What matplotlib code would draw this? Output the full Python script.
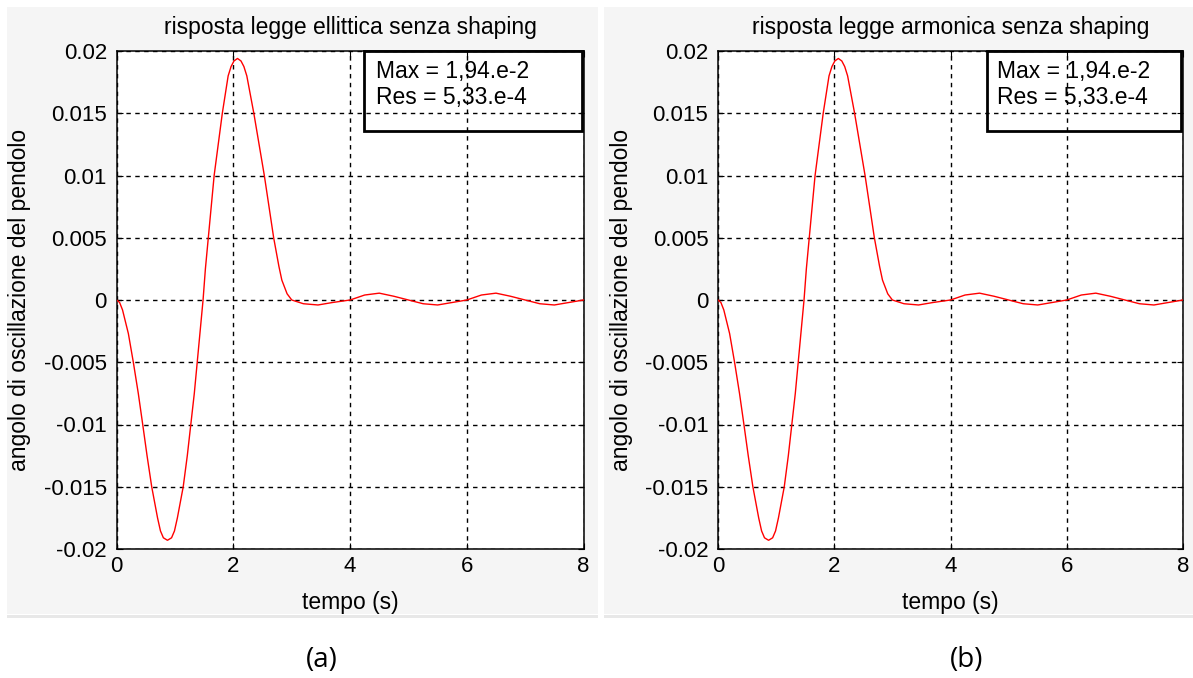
import matplotlib
matplotlib.use("Agg")
import matplotlib.pyplot as plt
from matplotlib.patches import Rectangle

plt.rcParams['font.family'] = ['Liberation Sans', 'DejaVu Sans']

# risposta del pendolo (tempo in s, angolo in rad)
tempo = [0.00, 0.05, 0.10, 0.20, 0.285, 0.37, 0.446, 0.52, 0.60, 0.70,
         0.75, 0.80, 0.87, 0.94, 0.99, 1.04, 1.14, 1.21, 1.27, 1.33,
         1.38, 1.43, 1.48, 1.52, 1.57, 1.62, 1.67, 1.74, 1.81, 1.91,
         1.96, 2.01, 2.07, 2.13, 2.18, 2.23, 2.35, 2.44, 2.53, 2.61,
         2.69, 2.78, 2.83, 2.92, 3.00, 3.20, 3.45, 3.70, 4.00, 4.25,
         4.50, 4.75, 5.00, 5.25, 5.50, 5.75, 6.00, 6.25, 6.50, 6.75,
         7.00, 7.25, 7.50, 7.75, 8.00]
angolo = [0.0, -0.0002, -0.0008, -0.0027, -0.005, -0.0075, -0.010, -0.0125, -0.015, -0.0175,
          -0.01855, -0.0191, -0.0193, -0.0191, -0.01855, -0.0175, -0.015, -0.0125, -0.010, -0.0075,
          -0.005, -0.0025, 0.0, 0.0025, 0.005, 0.0075, 0.010, 0.0125, 0.015, 0.018,
          0.01875, 0.0192, 0.0194, 0.0192, 0.01875, 0.018, 0.015, 0.0125, 0.010, 0.0075,
          0.005, 0.0027, 0.0016, 0.0005, 0.0, -0.0003, -0.0004, -0.0002, 0.0, 0.0004,
          0.00055, 0.0003, 0.0, -0.0003, -0.0004, -0.0002, 0.0, 0.0004, 0.00055, 0.0003,
          0.0, -0.0003, -0.0004, -0.0002, 0.0]

titoli = ['risposta legge ellittica senza shaping',
          'risposta legge armonica senza shaping']
didascalie = ['(a)', '(b)']
note = ['Max = 1,94.e-2\nRes = 5,33.e-4', 'Max = 1,94.e-2\nRes = 5,33.e-4']
xticks = [0, 2, 4, 6, 8]
yticks = [-0.02, -0.015, -0.01, -0.005, 0, 0.005, 0.01, 0.015, 0.02]
ytick_labels = ['-0.02', '-0.015', '-0.01', '-0.005', '0', '0.005', '0.01', '0.015', '0.02']

W, H = 1193, 678
fig = plt.figure(figsize=(W / 100, H / 100), dpi=100)
fig.patch.set_facecolor('white')

# pixel boxes: figure panel, axes, note box (x0, x1) and text x
panels = [(7, 598), (604, 1193)]
axes_x = [(116.7, 583.5), (718, 1183)]
note_box = [(364, 582), (987, 1181)]
note_x = [376, 997]
caption_x = [322, 967]
ax_top, ax_bot = 51, 549

for i in range(2):
    px0, px1 = panels[i]
    # gray MATLAB figure background
    fig.patches.append(Rectangle((px0 / W, 1 - 614 / H), (px1 - px0) / W, 607 / H,
                                 transform=fig.transFigure, facecolor='#f5f5f5',
                                 edgecolor='none', zorder=-10))
    fig.patches.append(Rectangle((px0 / W, 1 - 618 / H), (px1 - px0) / W, 3 / H,
                                 transform=fig.transFigure, facecolor='#e8e8e8',
                                 edgecolor='none', zorder=-10))

    ax0, ax1 = axes_x[i]
    ax = fig.add_axes([ax0 / W, 1 - ax_bot / H, (ax1 - ax0) / W, (ax_bot - ax_top) / H])
    ax.set_facecolor('white')
    ax.plot(tempo, angolo, color='red', linewidth=1.0, zorder=3)

    ax.set_xlim(0, 8)
    ax.set_ylim(-0.02, 0.02)
    ax.set_xticks(xticks)
    ax.set_yticks(yticks)
    ax.set_yticklabels(ytick_labels)
    ax.grid(True, color='black', linestyle=(0, (3.2, 3.2)), linewidth=1.0)
    ax.tick_params(direction='in', length=4, width=0.8, top=True, right=True,
                   labelsize=16, colors='black')
    ax.tick_params(axis='x', pad=5)
    ax.tick_params(axis='y', pad=7)
    for s in ax.spines.values():
        s.set_linewidth(1.1)

    ax.set_title(titoli[i], fontsize=16.5, pad=12)
    ax.set_xlabel('tempo (s)', fontsize=16.5, labelpad=10)
    ax.set_ylabel('angolo di oscillazione del pendolo', fontsize=16.5, labelpad=9)

    # note box with max value and residual
    bx0, bx1 = note_box[i]
    ax.add_patch(Rectangle(((bx0 - ax0) / (ax1 - ax0), (ax_bot - 130.7) / (ax_bot - ax_top)),
                           (bx1 - bx0) / (ax1 - ax0), (130.7 - ax_top) / (ax_bot - ax_top),
                           transform=ax.transAxes, facecolor='none', edgecolor='black',
                           linewidth=2.0, clip_on=False, zorder=4))
    ax.text((note_x[i] - ax0) / (ax1 - ax0), (ax_bot - 60) / (ax_bot - ax_top), note[i],
            transform=ax.transAxes, fontsize=16.5, va='top', ha='left',
            linespacing=1.15, zorder=5)

    fig.text(caption_x[i] / W, 1 - 660 / H, didascalie[i], fontsize=20,
             family=['Open Sans', 'DejaVu Sans'], ha='center', va='center')

fig.savefig('out.png', dpi=100)
